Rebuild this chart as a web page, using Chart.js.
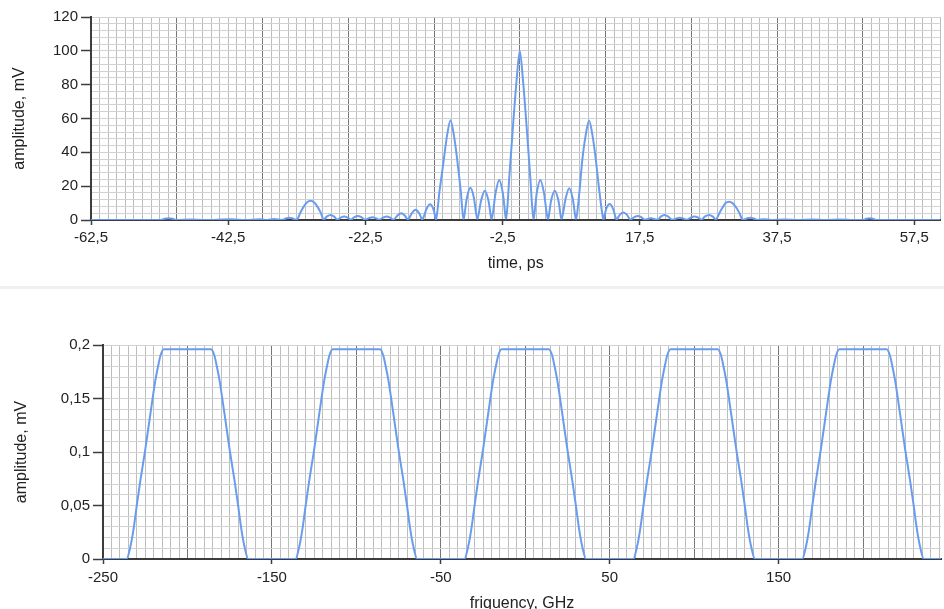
<!DOCTYPE html>
<html>
<head>
<meta charset="utf-8">
<script src="https://cdn.jsdelivr.net/npm/chart.js@4.4.1/dist/chart.umd.min.js"></script>
<style>
  html, body { margin: 0; padding: 0; background: #fff; overflow: hidden; }
  #page { position: relative; width: 944px; height: 609px; overflow: hidden; }
  #timeChart { position: absolute; left: 0; top: 0; }
  #sep { position: absolute; left: 0; top: 286px; width: 944px; height: 3px; background: #efefef; }
  #freqChart { position: absolute; left: 0; top: 292px; }
</style>
</head>
<body>
<div id="page">
  <canvas id="timeChart" width="944" height="285"></canvas>
  <div id="sep"></div>
  <canvas id="freqChart" width="944" height="330"></canvas>
</div>
<script>
// time domain
const timePs = [
  -62.5, -52.4, -51.8, -51.2, -50.6, -50.0, -48.0, -46.0, -42.0, -40.0, -37.9, -36.8, -35.8, -34.7, -34.1, -33.6, -33.1,
  -32.5, -32.0, -31.5, -31.0, -30.5, -30.0, -29.5, -29.0, -28.6, -28.1, -27.6, -27.1, -26.6, -26.1, -25.6, -25.1,
  -24.6, -24.1, -23.6, -23.1, -22.6, -22.0, -21.5, -21.0, -20.5, -19.9, -19.4, -18.9, -18.4, -17.8, -17.3, -16.8,
  -16.3, -15.7, -15.2, -14.7, -14.2, -13.6, -13.1, -12.6, -12.2, -11.7, -11.1, -10.6, -10.1, -9.6, -9.1, -8.6, -8.2,
  -7.7, -7.2, -6.7, -6.2, -5.6, -5.1, -4.6, -4.1, -3.5, -3.0, -2.5, -2.0, -1.5, -1.0, -0.5, 0, 0.5, 1.0, 1.5, 2.0,
  2.5, 3.0, 3.5, 4.1, 4.6, 5.1, 5.6, 6.1, 6.7, 7.2, 7.7, 8.2, 8.7, 9.1, 9.6, 10.1, 10.6, 11.1, 11.6, 12.2,
  12.6, 13.1, 13.6, 14.1, 14.6, 15.1, 15.6, 16.1, 16.7, 17.2, 17.7, 18.2, 19.1, 20.1, 20.6, 21.1, 21.6, 22.2,
  23.3, 24.4, 24.9, 25.5, 26.0, 26.5, 27.0, 27.6, 28.1, 28.6, 29.1, 29.6, 30.0, 30.5, 31.0, 31.5, 32.0, 32.5,
  33.1, 33.6, 34.1, 34.6, 35.6, 36.6, 38.6, 40.6, 42.6, 44.6, 46.6, 48.6, 50.0, 50.5, 51.0, 51.5, 52.0, 61.3
];
const amplitudeMv = [
  0, 0, 0.7, 1.0, 0.7, 0, 0.3, 0, 0.4, 0, 0.4, 0, 0.6, 0, 0.9, 1.4, 0.9,
  0, 4.2, 7.9, 10.5, 11.4, 10.5, 7.9, 4.2, 0.3, 2.1, 3.0, 2.1, 0.2, 1.4, 2.0, 1.4,
  0.2, 1.7, 2.4, 1.7, 0.2, 1.1, 1.6, 1.1, 0.2, 1.4, 2.0, 1.4, 0.2, 2.8, 4.0, 2.8,
  0.3, 4.2, 6.0, 4.2, 0.4, 6.5, 9.3, 6.5, 0.5, 17, 35, 50, 59, 50, 35, 17, 0.8,
  13.3, 19.0, 13.3, 0.8, 12.1, 17.3, 12.1, 0.8, 16.6, 23.7, 16.6, 1, 27, 55, 81, 100, 81, 55, 27, 1,
  16.6, 23.7, 16.6, 0.8, 12.1, 17.3, 12.1, 0.8, 13.0, 18.7, 13.0, 0.8, 17, 35, 50, 58.8, 50, 35, 17, 0.5,
  6.6, 9.4, 6.6, 0.4, 3.2, 4.5, 3.2, 0.3, 1.7, 2.4, 1.7, 0.2, 1.0, 0.2, 2.1, 3.0, 2.1, 0.2,
  1.4, 0.2, 1.4, 2.0, 1.4, 0.2, 2.1, 3.0, 2.1, 0.3, 4.2, 7.7, 10.0, 10.8, 10.0, 7.7, 4.2, 0,
  0.9, 1.4, 0.9, 0, 0.5, 0, 0.3, 0, 0.3, 0, 0.3, 0, 0, 0.7, 1.0, 0.7, 0, 0
];

// spectrum
const freqGHz = [
  -250,
  -236, -234, -232, -230, -228, -225, -223, -221, -219, -217, -216, -214, -186, -184, -183, -181, -179, -177, -175, -172, -170, -168, -166, -164,
  -136, -134, -132, -130, -128, -125, -123, -121, -119, -117, -116, -114, -86, -84, -83, -81, -79, -77, -75, -72, -70, -68, -66, -64,
  -36, -34, -32, -30, -28, -25, -23, -21, -19, -17, -16, -14, 14, 16, 17, 19, 21, 23, 25, 28, 30, 32, 34, 36,
  64, 66, 68, 70, 72, 75, 77, 79, 81, 83, 84, 86, 114, 116, 117, 119, 121, 123, 125, 128, 130, 132, 134, 136,
  164, 166, 168, 170, 172, 175, 177, 179, 181, 183, 184, 186, 214, 216, 217, 219, 221, 223, 225, 228, 230, 232, 234, 236,
  246.2
];
const spectrumMv = [
  0,
  0, 0.01, 0.027, 0.05, 0.072, 0.102, 0.124, 0.146, 0.167, 0.183, 0.19, 0.196, 0.196, 0.19, 0.183, 0.167, 0.146, 0.124, 0.102, 0.072, 0.05, 0.027, 0.01, 0,
  0, 0.01, 0.027, 0.05, 0.072, 0.102, 0.124, 0.146, 0.167, 0.183, 0.19, 0.196, 0.196, 0.19, 0.183, 0.167, 0.146, 0.124, 0.102, 0.072, 0.05, 0.027, 0.01, 0,
  0, 0.01, 0.027, 0.05, 0.072, 0.102, 0.124, 0.146, 0.167, 0.183, 0.19, 0.196, 0.196, 0.19, 0.183, 0.167, 0.146, 0.124, 0.102, 0.072, 0.05, 0.027, 0.01, 0,
  0, 0.01, 0.027, 0.05, 0.072, 0.102, 0.124, 0.146, 0.167, 0.183, 0.19, 0.196, 0.196, 0.19, 0.183, 0.167, 0.146, 0.124, 0.102, 0.072, 0.05, 0.027, 0.01, 0,
  0, 0.01, 0.027, 0.05, 0.072, 0.102, 0.124, 0.146, 0.167, 0.183, 0.19, 0.196, 0.196, 0.19, 0.183, 0.167, 0.146, 0.124, 0.102, 0.072, 0.05, 0.027, 0.01, 0,
  0
];

// labelled ticks
const timeTicks = [-62.5, -42.5, -22.5, -2.5, 17.5, 37.5, 57.5];
const ampTicks = [0, 20, 40, 60, 80, 100, 120];
const freqTicks = [-250, -150, -50, 50, 150];
const specTicks = [0, 0.05, 0.1, 0.15, 0.2];

const LINE = '#6a9cee';
const AXIS = '#3c3c3c';
const MINOR_V = '#bdbdbd';
const MINOR_H = '#d2d2d2';
const MAJOR = '#767676';
const TEXT = '#222';
const FONT = "'Liberation Sans', Arial, sans-serif";

const near = (a, b) => Math.abs(a - b) < 1e-6;
const inList = (list, v) => list.some(t => near(t, v));
const comma = v => String(+v.toFixed(4)).replace('.', ',');
const onStep = (v, step) => near(v / step, Math.round(v / step));

function gridTicks(min, max, step) {
  const out = [];
  for (let i = 0; min + i * step <= max + 1e-9; i++) out.push({ value: +(min + i * step).toFixed(6) });
  return out;
}

// one axis: grid every `minor`, darker line every `major` (0 = none), labels only from `labels`
function makeAxis(o) {
  const minorColor = o.position === 'bottom' ? MINOR_V : MINOR_H;
  return {
    type: 'linear',
    position: o.position,
    min: o.min,
    max: o.max,
    afterBuildTicks: s => { s.ticks = gridTicks(o.min, o.max, o.minor); },
    afterFit: s => { if (o.position === 'bottom') s.height = o.size; else s.width = o.size; },
    border: { display: true, color: AXIS, width: 2 },
    grid: {
      color: c => (o.major && onStep(c.tick.value, o.major)) ? MAJOR : minorColor,
      lineWidth: 1,
      tickLength: o.tickLength,
      tickColor: c => inList(o.labels, c.tick.value) ? AXIS : 'rgba(0,0,0,0)',
      tickWidth: 1.5
    },
    ticks: {
      autoSkip: false,
      maxRotation: 0,
      padding: o.tickPad,
      color: TEXT,
      font: { family: FONT, size: 15 },
      callback: v => inList(o.labels, v) ? comma(v) : ''
    },
    title: {
      display: true,
      text: o.title,
      color: TEXT,
      font: { family: FONT, size: 16 },
      padding: o.titlePad
    }
  };
}

function makeChart(id, xs, ys, smooth, xAxis, yAxis, padTop) {
  return new Chart(document.getElementById(id), {
    type: 'line',
    data: {
      datasets: [{
        data: xs.map((x, i) => ({ x: x, y: ys[i] })),
        borderColor: LINE,
        borderWidth: 2,
        pointRadius: 0,
        fill: false,
        tension: smooth ? 0 : 0.3,
        cubicInterpolationMode: smooth ? 'monotone' : 'default'
      }]
    },
    options: {
      responsive: false,
      animation: false,
      devicePixelRatio: 1,
      layout: { padding: { top: padTop, right: 0, bottom: 0, left: 0 } },
      plugins: { legend: { display: false }, tooltip: { enabled: false } },
      scales: { x: xAxis, y: yAxis }
    }
  });
}

makeChart('timeChart', timePs, amplitudeMv, false,
  makeAxis({ position: 'bottom', min: -62.5, max: 61.3, minor: 1.25, major: 12.5, labels: timeTicks,
             size: 65, tickLength: 5, tickPad: 4, title: 'time, ps', titlePad: { top: 0, bottom: 12 } }),
  makeAxis({ position: 'left', min: 0, max: 120, minor: 4, major: 0, labels: ampTicks,
             size: 91, tickLength: 10, tickPad: 3, title: 'amplitude, mV', titlePad: { top: 10, bottom: 0 } }),
  17);

makeChart('freqChart', freqGHz, spectrumMv, true,
  makeAxis({ position: 'bottom', min: -250, max: 246.2, minor: 5, major: 50, labels: freqTicks,
             size: 63, tickLength: 5, tickPad: 5, title: 'friquency, GHz', titlePad: { top: 0, bottom: 9 } }),
  makeAxis({ position: 'left', min: 0, max: 0.2, minor: 0.01, major: 0, labels: specTicks,
             size: 103, tickLength: 10, tickPad: 3, title: 'amplitude, mV', titlePad: { top: 12, bottom: 0 } }),
  53);
</script>
</body>
</html>
